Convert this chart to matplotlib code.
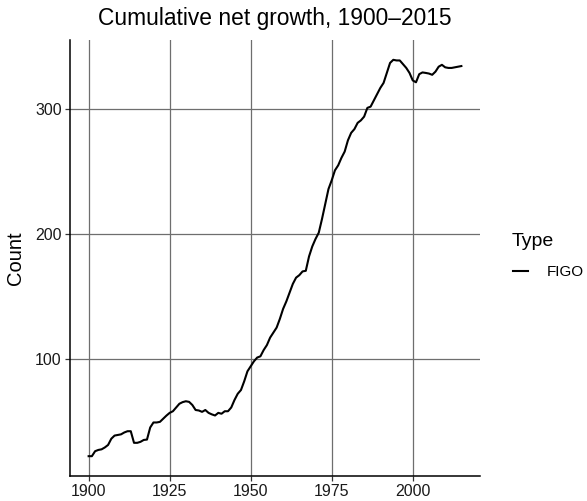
import matplotlib
matplotlib.use("Agg")
import matplotlib.pyplot as plt

plt.rcParams["font.family"] = ["Liberation Sans", "DejaVu Sans"]

years = list(range(1900, 2016))
counts = [
    22, 22, 26, 27, 27.5, 29, 31, 36, 38.5, 39,          # 1900s
    39.5, 41, 42, 42, 32.7, 32.7, 33.5, 35, 35.3, 45,    # 1910s
    49, 49, 49.5, 52, 54.5, 56.7, 58, 61, 64, 65.3,      # 1920s
    66, 65.5, 63, 59, 58.6, 57.5, 59, 56.7, 55.5, 54.6,  # 1930s
    56.7, 56, 58, 58, 61, 67, 72, 75, 82, 90,            # 1940s
    94, 98, 101, 102, 107, 111, 117, 121, 125, 132,      # 1950s
    140, 146, 153, 160, 165, 167, 170, 170.5, 182, 190,  # 1960s
    196, 201, 212, 224, 236, 243, 251, 255, 261, 266,    # 1970s
    275, 281, 284, 289, 291, 294, 301, 302, 307, 312,    # 1980s
    317, 321, 329, 337, 339.5, 339, 339, 336, 333, 329,  # 1990s
    323, 321.5, 328, 329.4, 329, 328.5, 327.5, 330, 334, 335.5,  # 2000s
    333.5, 333, 333, 333.5, 334, 334.5,                  # 2010s
]
series_name = "FIGO"
x_ticks = [1900, 1925, 1950, 1975, 2000]
y_ticks = [100, 200, 300]

fig = plt.figure(figsize=(5.87, 5.01), dpi=100)
ax = fig.add_axes([70 / 587, 25 / 501, 410 / 587, 436 / 501])

ax.plot(years, counts, color="black", linewidth=1.5, label=series_name)

# ggplot-style 5% expansion
span_x = years[-1] - years[0]
ax.set_xlim(years[0] - 0.05 * span_x, years[-1] + 0.05 * span_x)
span_y = max(counts) - min(counts)
ax.set_ylim(min(counts) - 0.05 * span_y, max(counts) + 0.05 * span_y)

ax.set_xticks(x_ticks)
ax.set_yticks(y_ticks)
ax.grid(True, color="#6e6e6e", linewidth=0.9)
ax.set_axisbelow(True)

for side in ["top", "right"]:
    ax.spines[side].set_visible(False)
for side in ["left", "bottom"]:
    ax.spines[side].set_linewidth(1.1)
    ax.spines[side].set_color("black")

ax.tick_params(axis="both", length=3.5, width=0.9, color="#333333",
               labelsize=11.5, labelcolor="#1a1a1a", pad=2.5)

ax.set_ylabel("Count", fontsize=14.5, labelpad=7)
ax.set_title("Cumulative net growth, 1900\u20132015", fontsize=16.4, pad=11)

# legend title placed separately so the entry sits where ggplot puts it
fig.text(512 / 587, 1 - 242 / 501, "Type", fontsize=14, va="center", ha="left")
leg = fig.legend(loc="center left", bbox_to_anchor=(513 / 587, 1 - 272 / 501),
                 frameon=False, fontsize=11, handlelength=1.0,
                 handletextpad=1.2, borderpad=0, borderaxespad=0)

fig.savefig("out.png", dpi=100)
